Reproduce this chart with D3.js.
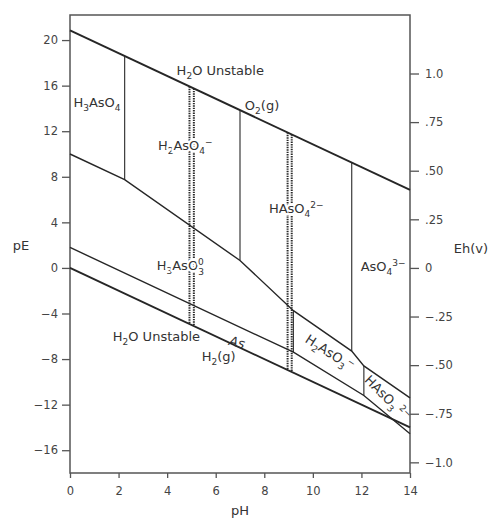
<!DOCTYPE html>
<html>
<head>
<meta charset="utf-8">
<script src="https://cdn.jsdelivr.net/npm/d3@7"></script>
<style>
  html, body { margin: 0; padding: 0; background: #fff; }
  svg { display: block; font-family: "DejaVu Sans", Verdana, sans-serif; }
</style>
</head>
<body>
<svg id="chart" width="489" height="518"></svg>
<script>
// pE–pH diagram for the As–O–H system (25 °C)

// Stability limits of water
const waterUpperPH = [0, 14];
const waterUpperPE = [20.85, 6.85];
const waterLowerPH = [0, 14];
const waterLowerPE = [0, -14];

// As(V) / As(III) boundary
const asVtoIIIPH = [0, 2.25, 7.0, 9.2, 11.6, 12.1, 14];
const asVtoIIIPE = [10, 7.75, 0.65, -3.75, -7.3, -8.6, -11.4];

// As(III) / As(0) boundary
const asIIItoAsPH = [0, 9.2, 12.1, 14];
const asIIItoAsPE = [1.8, -7.4, -11.2, -14.55];

// Vertical species boundaries (pH, upper pE, lower pE)
const boundaryPH    = [2.25, 7.0, 11.6, 9.2, 12.1];
const boundaryTopPE = [18.6, 13.85, 9.25, -3.75, -8.6];
const boundaryBotPE = [7.75, 0.65, -7.3, -7.4, -11.2];

// Dotted pK bands, each running between the two water lines
const dottedPH = [4.92, 5.1, 8.96, 9.13];

// Axis ticks
const pHTicks = [0, 2, 4, 6, 8, 10, 12, 14];
const pETicks = [-16, -12, -8, -4, 0, 4, 8, 12, 16, 20];
const ehTicks = [-1.0, -0.75, -0.5, -0.25, 0, 0.25, 0.5, 0.75, 1.0];
const ehTickLabels = ["\u22121.0", "\u2212.75", "\u2212.50", "\u2212.25", "0", ".25", ".50", ".75", "1.0"];
const EH_PER_PE = 0.0586;

const svg = d3.select("#chart");
const plotLeft = 70, plotRight = 410, plotTop = 15, plotBottom = 473;

const x = d3.scaleLinear().domain([0, 14]).range([plotLeft, plotRight]);
const y = d3.scaleLinear().domain([-18, 22.2]).range([plotBottom, plotTop]);
const yEh = d3.scaleLinear()
  .domain([-18 * EH_PER_PE, 22.2 * EH_PER_PE])
  .range([plotBottom, plotTop]);

const ink = "#262626";
const axisGrey = "#555";
const fontFamily = "DejaVu Sans, Verdana, sans-serif";
const fmtMinus = d => (d < 0 ? "\u2212" + Math.abs(d) : String(d));

// ---------- axes ----------
const styleAxis = g => {
  g.select(".domain").remove();
  g.selectAll(".tick line").attr("stroke", axisGrey).attr("stroke-width", 1.3);
  g.selectAll(".tick text")
    .attr("fill", "#444")
    .attr("font-size", 11.5)
    .attr("font-family", fontFamily);
};

svg.append("g")
  .attr("transform", `translate(${plotLeft},0)`)
  .call(d3.axisLeft(y).tickValues(pETicks).tickFormat(fmtMinus).tickSize(8).tickPadding(4))
  .call(styleAxis);

svg.append("g")
  .attr("transform", `translate(${plotRight},0)`)
  .call(d3.axisRight(yEh).tickValues(ehTicks)
    .tickFormat((d, i) => ehTickLabels[i]).tickSize(9).tickPadding(6))
  .call(styleAxis);

svg.append("g")
  .attr("transform", `translate(0,${plotBottom})`)
  .call(d3.axisBottom(x).tickValues(pHTicks).tickSize(5).tickPadding(9))
  .call(styleAxis);

// frame
svg.append("rect")
  .attr("x", plotLeft).attr("y", plotTop)
  .attr("width", plotRight - plotLeft).attr("height", plotBottom - plotTop)
  .attr("fill", "none").attr("stroke", axisGrey).attr("stroke-width", 1.5);

// axis titles
svg.append("text").attr("x", 21).attr("y", 250).attr("text-anchor", "middle")
  .attr("font-size", 13).attr("fill", "#333").text("pE");
svg.append("text").attr("x", 471).attr("y", 253).attr("text-anchor", "middle")
  .attr("font-size", 13).attr("fill", "#333").text("Eh(v)");
svg.append("text").attr("x", 240).attr("y", 515).attr("text-anchor", "middle")
  .attr("font-size", 13).attr("fill", "#333").text("pH");

// ---------- lines ----------
const plot = svg.append("g");
const line = d3.line().x(d => x(d[0])).y(d => y(d[1]));
const zip = (a, b) => a.map((v, i) => [v, b[i]]);

// dotted pK bands (drawn first so labels and lines sit on top)
const upperAt = ph => d3.scaleLinear().domain(waterUpperPH).range(waterUpperPE)(ph);
const lowerAt = ph => d3.scaleLinear().domain(waterLowerPH).range(waterLowerPE)(ph);
plot.selectAll("line.dotted").data(dottedPH).join("line")
  .attr("class", "dotted")
  .attr("x1", d => x(d)).attr("x2", d => x(d))
  .attr("y1", d => y(upperAt(d))).attr("y2", d => y(lowerAt(d)))
  .attr("stroke", "#2a2a2a").attr("stroke-width", 2)
  .attr("stroke-dasharray", "1.4,1");

// vertical species boundaries
plot.selectAll("line.vbound").data(boundaryPH).join("line")
  .attr("class", "vbound")
  .attr("x1", d => x(d)).attr("x2", d => x(d))
  .attr("y1", (d, i) => y(boundaryTopPE[i]))
  .attr("y2", (d, i) => y(boundaryBotPE[i]))
  .attr("stroke", "#3a3a3a").attr("stroke-width", 1.2);

// redox boundaries
plot.append("path").attr("d", line(zip(asVtoIIIPH, asVtoIIIPE)))
  .attr("fill", "none").attr("stroke", ink).attr("stroke-width", 1.4);
plot.append("path").attr("d", line(zip(asIIItoAsPH, asIIItoAsPE)))
  .attr("fill", "none").attr("stroke", ink).attr("stroke-width", 1.4);

// water stability lines
plot.append("path").attr("d", line(zip(waterUpperPH, waterUpperPE)))
  .attr("fill", "none").attr("stroke", ink).attr("stroke-width", 1.9);
plot.append("path").attr("d", line(zip(waterLowerPH, waterLowerPE)))
  .attr("fill", "none").attr("stroke", ink).attr("stroke-width", 1.9);

// ---------- labels ----------
// each part: [text, kind] where kind is "n" normal, "b" subscript, "p" superscript
const labels = [
  { pH: 4.39, pE: 16.9, parts: [["H", "n"], ["2", "b"], ["O Unstable", "n"]] },
  { pH: 7.2,  pE: 13.85, parts: [["O", "n"], ["2", "b"], ["(g)", "n"]] },
  { pH: 0.14, pE: 14.1, parts: [["H", "n"], ["3", "b"], ["AsO", "n"], ["4", "b"]] },
  { pH: 3.62, pE: 10.35, halo: true, parts: [["H", "n"], ["2", "b"], ["AsO", "n"], ["4", "b"], ["\u2212", "p"]] },
  { pH: 8.19, pE: 4.8, halo: true, parts: [["HAsO", "n"], ["4", "b"], ["2\u2212", "p"]] },
  { pH: 3.57, pE: -0.2, halo: true, parts: [["H", "n"], ["3", "b"], ["AsO", "n"], ["0", "p"], ["3", "bb"]] },
  { pH: 11.97, pE: -0.28, parts: [["AsO", "n"], ["4", "b"], ["3\u2212", "p"]] },
  { pH: 1.76, pE: -6.45, parts: [["H", "n"], ["2", "b"], ["O Unstable", "n"]] },
  { pH: 5.42, pE: -8.15, parts: [["H", "n"], ["2", "b"], ["(g)", "n"]] },
  { pH: 6.52, pE: -6.75, rotate: 14, italic: true, parts: [["As", "n"]] },
  { pH: 9.65, pE: -6.45, rotate: 33, parts: [["H", "n"], ["2", "b"], ["AsO", "n"], ["3", "b"], ["\u2212", "p"]] },
  { pH: 12.1, pE: -9.9, rotate: 45, parts: [["HAsO", "n"], ["3", "b"], [" 2\u2212", "p"]] }
];

labels.forEach(l => {
  const t = plot.append("text")
    .attr("transform", `translate(${x(l.pH)},${y(l.pE)}) rotate(${l.rotate || 0})`)
    .attr("font-size", 13)
    .attr("font-family", fontFamily)
    .attr("fill", "#333")
    .attr("font-style", l.italic ? "italic" : null);
  if (l.halo) {
    t.attr("stroke", "#fff").attr("stroke-width", 4.5)
      .attr("stroke-linejoin", "round").attr("paint-order", "stroke");
  }
  let shift = 0;
  l.parts.forEach(([s, k]) => {
    const span = t.append("tspan").text(s);
    if (k === "b" || k === "p") {
      const target = k === "b" ? 4 : -5;
      span.attr("font-size", 9).attr("dy", target - shift);
      shift = target;
    } else if (k === "bb") {
      // subscript stacked under the preceding superscript
      span.attr("font-size", 9).attr("dx", -5.7).attr("dy", 5 - shift);
      shift = 5;
    } else {
      span.attr("dy", -shift);
      shift = 0;
    }
  });
});
</script>
</body>
</html>
